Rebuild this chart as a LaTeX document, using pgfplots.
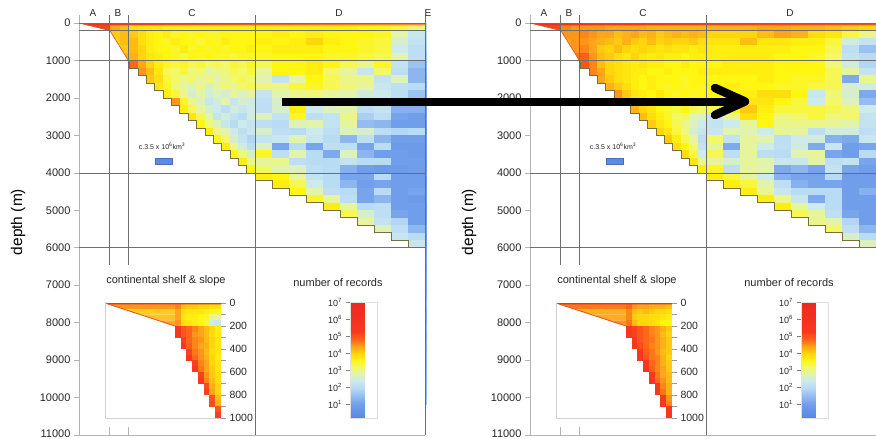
\documentclass[border=0pt]{standalone}
\usepackage{fontspec}
\setmainfont{Liberation Sans}
\usepackage{pgfplots}
\usepackage{pgfplotstable}
\pgfplotsset{compat=1.18}

\definecolor{gridc}{RGB}{110,110,110}
\definecolor{axc}{RGB}{180,180,180}
\definecolor{stairc}{RGB}{120,112,62}
\definecolor{slopec}{RGB}{228,88,32}
\definecolor{shelfc}{RGB}{240,72,30}
\definecolor{topL}{RGB}{235,48,30}
\definecolor{topRa}{RGB}{252,140,38}
\definecolor{topRb}{RGB}{242,80,30}
\definecolor{keyc}{RGB}{92,140,225}
\definecolor{keyd}{RGB}{70,110,185}
\definecolor{wa}{RGB}{255,150,30}
\definecolor{wb}{RGB}{255,205,30}
\definecolor{wc}{RGB}{255,195,40}
\definecolor{wd}{RGB}{255,170,40}
\definecolor{va}{RGB}{255,120,30}
\definecolor{vb}{RGB}{255,175,30}
\definecolor{vc}{RGB}{255,170,35}
\definecolor{vd}{RGB}{255,145,35}

% heat-map cells, sized in pt (1 pt = 1 px of the reference)
\pgfdeclareplotmark{cB}{\pgfpathrectangle{\pgfqpoint{-5.05pt}{-3.85pt}}{\pgfqpoint{10.1pt}{7.7pt}}\pgfusepathqfill}
\pgfdeclareplotmark{cC}{\pgfpathrectangle{\pgfqpoint{-4.3pt}{-3.85pt}}{\pgfqpoint{8.6pt}{7.7pt}}\pgfusepathqfill}
\pgfdeclareplotmark{cD}{\pgfpathrectangle{\pgfqpoint{-8.6pt}{-3.85pt}}{\pgfqpoint{17.2pt}{7.7pt}}\pgfusepathqfill}
\pgfdeclareplotmark{cE}{\pgfpathrectangle{\pgfqpoint{-1.2pt}{-3.85pt}}{\pgfqpoint{2.4pt}{7.7pt}}\pgfusepathqfill}
\pgfdeclareplotmark{cI}{\pgfpathrectangle{\pgfqpoint{-2.98pt}{-2.98pt}}{\pgfqpoint{5.95pt}{5.95pt}}\pgfusepathqfill}

\pgfplotsset{
  colormap={recs}{rgb255(0pt)=(88,135,225) rgb255(8pt)=(112,158,234) rgb255(13pt)=(148,188,240)
    rgb255(18pt)=(185,220,245) rgb255(22pt)=(205,234,236) rgb255(26pt)=(226,243,172)
    rgb255(30pt)=(243,248,105) rgb255(34pt)=(255,246,18) rgb255(38pt)=(255,214,12)
    rgb255(42pt)=(255,165,25) rgb255(46pt)=(255,102,26) rgb255(51pt)=(248,56,30) rgb255(68pt)=(238,40,34)},
  cell/.style={only marks, scatter, point meta=explicit, mark=#1,
    scatter/use mapped color={draw=none,fill=mapped color}},
  mainax/.style={
    width=346pt, height=420pt, scale only axis,
    xmin=0, xmax=346, ymin=-11000, ymax=214,
    axis lines=left, axis line style={-, draw=axc, line width=0.6pt},
    xtick=\empty, scaled y ticks=false,
    ytick={-11000,-10000,...,0},
    yticklabels={\raisebox{2pt}{11000},10000,9000,8000,7000,6000,5000,4000,3000,2000,1000,0},
    tick align=outside, major tick length=5pt,
    ytick style={draw=axc, line width=0.6pt},
    yticklabel style={font=\fontsize{11}{12}\selectfont, text=black!85, inner ysep=0pt},
    ylabel={depth (m)},
    ylabel style={font=\fontsize{15.5}{17}\selectfont, at={(axis description cs:-0.176,0.507)}, anchor=center},
    point meta min=0.2, point meta max=7,
    clip=false, clip marker paths=true,
    colorbar,
    colorbar style={
      at={(parent axis.south west)}, anchor=south west, xshift=263pt, yshift=17pt,
      width=26.5pt, height=115.5pt, scale only axis,
      ytick={1,2,3,4,5,6,7},
      yticklabels={10\textsuperscript{1},10\textsuperscript{2},10\textsuperscript{3},10\textsuperscript{4},10\textsuperscript{5},10\textsuperscript{6},10\textsuperscript{7}},
      yticklabel pos=left, ytick pos=left,
      tick align=outside, major tick length=5pt,
      ytick style={draw=gray, line width=0.5pt},
      yticklabel style={font=\fontsize{9}{10}\selectfont, text=black!85},
      axis line style={draw=black!12},
    },
  },
  insax/.style={
    width=116pt, height=115pt, scale only axis,
    xmin=0, xmax=116, ymin=-1000, ymax=0,
    axis x line=bottom, axis y line=right,
    x axis line style={-, draw=black!18, line width=0.6pt},
    y axis line style={-, draw=none},
    xtick=\empty,
    ytick={-1000,-800,...,0}, yticklabels={1000,800,600,400,200,0},
    minor ytick={-900,-700,-500,-300,-100},
    tick align=outside, major tick length=5pt, minor tick length=5pt,
    ytick style={draw=gray!80, line width=0.5pt},
    minor tick style={draw=gray!80, line width=0.5pt},
    yticklabel style={font=\fontsize{10.5}{12}\selectfont, text=black!85},
    point meta min=0.2, point meta max=7, clip=false, clip marker paths=true,
  },
}

% one heat column: mark, x centre, column, first skipped row, table
\newcommand\colP[5]{\addplot[cell=#1] table[x expr=#2, y=y, meta=#3, skip coords between index={#4}{99}] {#5};}

% log10(number of records); rows of 200 m, columns B, C (15), D (10)
\pgfplotstableread{
y b1 b2 c1 c2 c3 c4 c5 c6 c7 c8 c9 c10 c11 c12 c13 c14 c15 e1 e2 e3 e4 e5 e6 e7 e8 e9 e10
-100 4.4 4.2 3.9 3.8 3.8 3.8 3.7 3.7 3.7 3.7 3.7 3.7 3.7 3.7 3.7 3.7 3.7 3.7 3.7 3.7 3.7 3.7 3.7 3.6 3.6 3.4 3.1
-300 4.1 4.2 4.1 3.9 3.7 3.6 3.7 3.5 3.6 3.5 3.6 3.5 3.5 3.6 3.6 3.6 3.6 3.6 3.7 3.6 3.7 3.6 3.6 3.6 3.5 2.8 2.3
-500 4.0 4.2 4.2 3.9 3.7 3.6 3.5 3.7 3.6 3.6 3.4 3.6 3.5 3.7 3.6 3.6 3.6 3.7 3.6 3.7 4.0 3.7 3.6 3.5 3.4 2.6 2.2
-700 4.0 4.1 4.2 4.0 3.7 3.6 3.6 3.5 3.7 3.5 3.6 3.5 3.6 3.5 3.6 3.6 3.7 3.6 3.7 3.7 3.7 3.6 3.6 3.5 3.4 2.4 2.1
-900 4.1 4.3 4.3 4.0 3.8 3.7 3.6 3.5 3.4 3.6 3.5 3.6 3.5 3.5 3.4 3.5 3.5 3.5 3.6 3.6 3.6 3.5 3.5 3.4 3.3 2.8 2.1
-1100 4.3 4.5 4.8 4.4 4.0 3.7 3.5 3.4 3.5 3.3 3.4 3.2 3.3 3.2 3.4 3.3 3.5 3.3 3.6 3.6 3.7 3.6 3.3 3.0 3.5 2.2 1.6
-1300 nan nan nan 4.5 4.2 3.8 3.3 3.2 3.4 3.1 3.2 2.8 3.0 3.1 3.3 3.2 3.4 2.9 3.6 3.6 3.7 3.2 2.9 2.3 3.2 2.1 1.4
-1500 nan nan nan nan 4.1 3.9 3.4 3.2 3.0 3.2 2.9 3.1 2.8 3.0 3.2 3.3 3.1 2.8 2.2 2.8 3.6 3.3 3.0 3.0 2.2 2.7 1.4
-1700 nan nan nan nan nan 3.8 3.5 3.1 2.9 2.7 3.0 2.6 2.9 3.1 2.9 3.2 3.3 3.1 3.0 3.4 3.5 3.3 3.1 2.9 2.3 2.1 2.0
-1900 nan nan nan nan nan nan 3.7 3.4 3.0 2.6 2.8 2.5 2.7 2.6 2.9 2.7 2.9 2.2 2.8 3.0 3.1 2.9 2.8 2.5 2.4 2.1 1.6
-2100 nan nan nan nan nan nan nan 4.5 3.5 3.0 2.7 2.3 2.5 2.8 2.3 2.6 2.5 2.1 2.6 2.8 2.7 2.5 2.6 2.2 2.3 1.5 1.4
-2300 nan nan nan nan nan nan nan nan 3.7 3.3 2.9 2.6 2.4 2.1 2.5 2.3 2.4 2.1 2.6 3.7 2.4 2.7 2.8 2.1 2.2 1.3 1.3
-2500 nan nan nan nan nan nan nan nan nan 3.8 3.3 2.8 2.2 2.5 2.2 2.0 2.5 2.7 2.2 3.5 2.1 2.2 3.0 1.8 2.1 1.1 1.0
-2700 nan nan nan nan nan nan nan nan nan nan 3.6 3.1 2.7 2.3 2.0 2.4 2.2 2.1 2.0 2.7 2.8 2.2 2.9 1.5 1.4 1.0 1.0
-2900 nan nan nan nan nan nan nan nan nan nan nan 3.7 3.0 2.8 2.4 2.1 2.3 2.6 2.1 2.0 2.4 2.1 2.7 2.6 2.1 1.9 2.0
-3100 nan nan nan nan nan nan nan nan nan nan nan nan 3.6 3.2 2.6 2.2 1.9 2.2 2.3 2.8 2.3 2.0 1.4 2.1 1.4 1.0 1.0
-3300 nan nan nan nan nan nan nan nan nan nan nan nan nan 3.7 3.0 2.5 2.1 2.7 1.1 2.0 1.1 2.1 2.1 1.1 2.0 0.9 0.9
-3500 nan nan nan nan nan nan nan nan nan nan nan nan nan nan 3.6 3.1 2.6 3.5 2.1 2.8 2.0 1.2 2.7 1.4 1.0 1.0 0.9
-3700 nan nan nan nan nan nan nan nan nan nan nan nan nan nan nan 3.7 3.0 2.9 3.0 2.1 2.0 2.0 2.2 2.0 2.0 1.0 1.0
-3900 nan nan nan nan nan nan nan nan nan nan nan nan nan nan nan nan 3.6 3.2 2.8 2.7 2.1 2.0 1.3 1.0 0.9 0.9 1.0
-4100 nan nan nan nan nan nan nan nan nan nan nan nan nan nan nan nan nan 3.7 3.6 2.9 2.2 2.0 1.1 1.1 2.0 1.0 1.0
-4300 nan nan nan nan nan nan nan nan nan nan nan nan nan nan nan nan nan nan 3.7 3.3 2.4 2.0 1.4 1.0 1.1 1.0 1.0
-4500 nan nan nan nan nan nan nan nan nan nan nan nan nan nan nan nan nan nan nan 3.6 2.8 2.1 2.0 1.1 2.0 1.0 1.1
-4700 nan nan nan nan nan nan nan nan nan nan nan nan nan nan nan nan nan nan nan nan 3.5 2.9 2.1 1.1 1.4 1.0 0.9
-4900 nan nan nan nan nan nan nan nan nan nan nan nan nan nan nan nan nan nan nan nan nan 3.7 2.9 2.0 2.1 1.0 1.0
-5100 nan nan nan nan nan nan nan nan nan nan nan nan nan nan nan nan nan nan nan nan nan nan 3.3 2.6 2.1 1.1 1.0
-5300 nan nan nan nan nan nan nan nan nan nan nan nan nan nan nan nan nan nan nan nan nan nan nan 2.9 2.2 1.9 1.0
-5500 nan nan nan nan nan nan nan nan nan nan nan nan nan nan nan nan nan nan nan nan nan nan nan nan 2.7 2.1 1.4
-5700 nan nan nan nan nan nan nan nan nan nan nan nan nan nan nan nan nan nan nan nan nan nan nan nan nan 2.3 2.0
-5900 nan nan nan nan nan nan nan nan nan nan nan nan nan nan nan nan nan nan nan nan nan nan nan nan nan nan 2.3
}\tabL

\pgfplotstableread{
y b1 b2 c1 c2 c3 c4 c5 c6 c7 c8 c9 c10 c11 c12 c13 c14 c15 e1 e2 e3 e4 e5 e6 e7 e8 e9 e10
-100 4.6 4.5 4.5 4.5 4.5 4.4 4.4 4.4 4.4 4.4 4.3 4.3 4.3 4.3 4.3 4.3 4.3 4.3 4.3 4.3 4.4 4.4 4.3 4.3 4.2 4.1 4.0
-300 4.5 4.5 4.6 4.5 4.4 4.4 4.2 4.3 4.4 4.2 4.3 4.1 4.2 4.3 4.2 4.3 4.2 4.0 4.0 4.0 4.2 4.4 4.3 3.9 3.8 3.4 3.0
-500 4.4 4.5 4.5 4.4 4.3 4.2 4.1 4.3 4.1 4.0 4.2 4.0 4.1 4.0 4.0 4.1 3.9 3.8 3.8 4.2 3.8 3.8 3.7 3.7 3.4 2.5 2.2
-700 4.4 4.5 4.6 4.4 4.1 4.0 4.2 4.0 3.9 4.0 3.9 3.8 3.9 3.8 3.8 3.7 3.8 3.7 3.7 3.7 3.7 3.7 3.6 3.6 3.3 2.1 1.6
-900 4.5 4.7 4.9 4.5 4.2 4.1 3.9 3.8 4.0 3.8 3.7 3.8 3.7 3.7 3.6 3.7 3.7 3.7 3.7 3.7 3.7 3.6 3.6 3.5 3.2 2.2 2.0
-1100 4.6 4.8 5.0 4.6 4.2 4.0 3.9 3.8 3.7 3.8 3.7 3.7 3.6 3.6 3.7 3.6 3.6 3.6 3.7 3.7 3.7 3.6 3.6 3.6 3.1 2.5 1.9
-1300 nan nan nan 4.6 4.4 4.0 3.9 3.8 3.7 3.7 3.6 3.6 3.7 3.6 3.6 3.6 3.7 3.7 3.7 3.7 3.7 3.6 3.6 3.6 3.3 2.9 2.2
-1500 nan nan nan nan 4.4 4.1 3.9 3.8 3.7 3.6 3.7 3.6 3.6 3.6 3.5 3.6 3.6 3.6 3.6 3.6 3.7 3.6 3.5 3.5 3.3 1.2 3.0
-1700 nan nan nan nan nan 4.3 4.1 3.9 3.7 3.6 3.7 3.6 3.5 3.6 3.5 3.6 3.5 3.6 3.7 3.6 3.6 3.5 3.5 3.4 3.3 2.6 2.5
-1900 nan nan nan nan nan nan 4.5 4.1 3.8 3.7 3.6 3.8 3.6 3.5 3.6 3.5 3.6 3.6 3.6 3.7 3.9 3.9 3.6 2.3 3.1 2.6 1.2
-2100 nan nan nan nan nan nan nan 4.4 4.1 3.8 3.7 3.6 3.6 3.5 3.5 3.4 3.6 3.6 3.8 3.8 3.8 3.6 3.4 2.4 3.2 2.7 1.5
-2300 nan nan nan nan nan nan nan nan 4.3 4.0 3.8 3.6 3.5 3.4 3.6 3.3 3.2 3.3 3.6 4.1 3.7 3.4 3.4 3.4 3.3 3.1 2.4
-2500 nan nan nan nan nan nan nan nan nan 4.2 3.9 3.7 3.5 3.2 3.3 2.8 2.7 2.3 3.0 3.9 3.6 3.1 3.2 3.4 3.1 3.2 2.2
-2700 nan nan nan nan nan nan nan nan nan nan 4.1 3.8 3.6 3.3 3.0 2.7 2.4 2.2 2.4 2.9 3.6 3.0 3.0 3.0 2.9 2.8 2.2
-2900 nan nan nan nan nan nan nan nan nan nan nan 4.0 3.8 3.4 3.1 2.6 2.3 2.3 2.8 2.8 2.4 2.9 2.9 2.1 2.5 2.5 2.1
-3100 nan nan nan nan nan nan nan nan nan nan nan nan 4.1 3.7 3.3 2.9 2.1 3.2 2.2 2.9 2.8 2.1 2.4 2.5 1.3 1.2 2.3
-3300 nan nan nan nan nan nan nan nan nan nan nan nan nan 3.9 3.6 3.2 2.2 2.9 1.2 2.9 2.4 2.1 2.5 1.2 2.3 1.0 1.1
-3500 nan nan nan nan nan nan nan nan nan nan nan nan nan nan 3.9 3.4 2.4 3.3 2.1 2.9 2.1 2.0 2.8 2.9 1.1 1.0 2.0
-3700 nan nan nan nan nan nan nan nan nan nan nan nan nan nan nan 3.8 3.0 2.9 2.6 2.9 2.8 2.3 2.3 2.8 2.1 2.2 1.1
-3900 nan nan nan nan nan nan nan nan nan nan nan nan nan nan nan nan 3.7 3.5 2.1 2.9 2.8 1.2 1.4 1.1 2.2 1.1 1.0
-4100 nan nan nan nan nan nan nan nan nan nan nan nan nan nan nan nan nan 3.7 3.4 2.9 2.4 1.3 1.1 1.1 2.0 1.0 1.0
-4300 nan nan nan nan nan nan nan nan nan nan nan nan nan nan nan nan nan nan 3.7 3.4 2.8 2.1 1.3 1.1 1.1 1.0 1.0
-4500 nan nan nan nan nan nan nan nan nan nan nan nan nan nan nan nan nan nan nan 3.7 3.0 2.3 2.0 2.0 2.0 1.0 1.3
-4700 nan nan nan nan nan nan nan nan nan nan nan nan nan nan nan nan nan nan nan nan 3.7 3.0 2.3 1.2 2.0 1.0 1.0
-4900 nan nan nan nan nan nan nan nan nan nan nan nan nan nan nan nan nan nan nan nan nan 3.7 2.9 2.4 2.0 1.0 1.0
-5100 nan nan nan nan nan nan nan nan nan nan nan nan nan nan nan nan nan nan nan nan nan nan 3.3 2.9 2.1 1.1 1.0
-5300 nan nan nan nan nan nan nan nan nan nan nan nan nan nan nan nan nan nan nan nan nan nan nan 3.0 2.8 1.9 1.0
-5500 nan nan nan nan nan nan nan nan nan nan nan nan nan nan nan nan nan nan nan nan nan nan nan nan 3.2 2.1 1.4
-5700 nan nan nan nan nan nan nan nan nan nan nan nan nan nan nan nan nan nan nan nan nan nan nan nan nan 2.6 2.0
-5900 nan nan nan nan nan nan nan nan nan nan nan nan nan nan nan nan nan nan nan nan nan nan nan nan nan nan 2.7
}\tabR

% continental shelf & slope insets: rows of 50 m, 8 slope columns
\pgfplotstableread{
y k1 k2 k3 k4 k5 k6 k7 k8
-25 4.6 4.2 4.1 4.1 4.0 4.0 3.9 3.9
-75 4.4 3.9 3.8 3.8 3.8 3.7 3.6 3.6
-125 4.4 3.8 3.7 3.7 3.6 3.5 3.0 2.9
-175 4.5 3.9 3.8 3.7 3.6 3.4 2.4 2.3
-225 5.3 5.0 4.8 4.6 4.4 4.2 4.0 3.7
-275 5.4 5.0 4.8 4.5 4.4 4.2 3.9 3.7
-325 nan 5.2 4.8 4.6 4.5 4.2 4.0 3.8
-375 nan 5.3 4.9 4.6 4.4 4.3 4.0 3.8
-425 nan nan 5.2 4.7 4.5 4.2 3.9 3.8
-475 nan nan 5.3 4.8 4.5 4.3 4.0 3.7
-525 nan nan nan 5.2 4.6 4.4 4.0 3.8
-575 nan nan nan 5.3 4.7 4.4 4.1 3.8
-625 nan nan nan nan 5.2 4.5 4.1 3.9
-675 nan nan nan nan 5.3 4.6 4.2 3.9
-725 nan nan nan nan nan 5.1 4.3 4.0
-775 nan nan nan nan nan 5.2 4.4 4.0
-825 nan nan nan nan nan nan 5.0 4.2
-875 nan nan nan nan nan nan 5.1 4.3
-925 nan nan nan nan nan nan nan 5.0
-975 nan nan nan nan nan nan nan 5.2
}\insL

\pgfplotstableread{
y k1 k2 k3 k4 k5 k6 k7 k8
-25 4.8 4.5 4.4 4.4 4.3 4.3 4.3 4.2
-75 4.6 4.2 4.1 4.2 4.1 4.0 4.0 3.9
-125 4.6 4.1 4.0 4.0 3.9 3.9 3.8 3.7
-175 4.7 4.2 4.0 4.0 3.9 3.8 3.6 3.6
-225 5.5 5.2 5.0 4.8 4.6 4.5 4.3 4.1
-275 5.5 5.2 5.0 4.8 4.6 4.5 4.2 4.0
-325 nan 5.4 5.0 4.8 4.7 4.5 4.3 4.1
-375 nan 5.5 5.1 4.8 4.6 4.5 4.3 4.1
-425 nan nan 5.4 4.9 4.7 4.5 4.2 4.1
-475 nan nan 5.5 5.0 4.7 4.6 4.3 4.0
-525 nan nan nan 5.4 4.8 4.6 4.3 4.1
-575 nan nan nan 5.5 4.9 4.6 4.4 4.1
-625 nan nan nan nan 5.4 4.7 4.4 4.2
-675 nan nan nan nan 5.5 4.8 4.5 4.2
-725 nan nan nan nan nan 5.3 4.6 4.3
-775 nan nan nan nan nan 5.4 4.7 4.3
-825 nan nan nan nan nan nan 5.3 4.5
-875 nan nan nan nan nan nan 5.4 4.6
-925 nan nan nan nan nan nan nan 5.3
-975 nan nan nan nan nan nan nan 5.4
}\insR

\newcommand\heat[1]{%
\colP{cB}{35.73}{b1}{6}{#1}
\colP{cB}{45.58}{b2}{6}{#1}
\colP{cC}{54.68}{c1}{6}{#1}
\colP{cC}{63.05}{c2}{7}{#1}
\colP{cC}{71.42}{c3}{8}{#1}
\colP{cC}{79.78}{c4}{9}{#1}
\colP{cC}{88.15}{c5}{10}{#1}
\colP{cC}{96.52}{c6}{11}{#1}
\colP{cC}{104.88}{c7}{12}{#1}
\colP{cC}{113.25}{c8}{13}{#1}
\colP{cC}{121.62}{c9}{14}{#1}
\colP{cC}{129.98}{c10}{15}{#1}
\colP{cC}{138.35}{c11}{16}{#1}
\colP{cC}{146.72}{c12}{17}{#1}
\colP{cC}{155.08}{c13}{18}{#1}
\colP{cC}{163.45}{c14}{19}{#1}
\colP{cC}{171.82}{c15}{20}{#1}
\colP{cD}{184.5}{e1}{21}{#1}
\colP{cD}{201.5}{e2}{22}{#1}
\colP{cD}{218.5}{e3}{23}{#1}
\colP{cD}{235.5}{e4}{24}{#1}
\colP{cD}{252.5}{e5}{25}{#1}
\colP{cD}{269.5}{e6}{26}{#1}
\colP{cD}{286.5}{e7}{27}{#1}
\colP{cD}{303.5}{e8}{28}{#1}
\colP{cD}{320.5}{e9}{29}{#1}
\colP{cD}{337.5}{e10}{30}{#1}
}

% shelf, slope, surface band, staircase and guide lines, drawn above the cells
\newcommand\panelframe[2]{%
\addplot[fill=shelfc, draw=none] coordinates {(0,0) (30.8,-200) (30.8,0) (0,0)};
\addplot[fill=white, draw=none] coordinates {(30.8,-200) (50.5,-1050) (50.5,-1215) (30.5,-1215) (30.5,-200)};
\addplot[draw=none, left color=#1, right color=#2] coordinates {(0,0) (346,0) (346,-60) (9.3,-60) (0,0)};
\addplot[slopec, line width=0.7pt] coordinates {(0,0) (30.8,-200) (50.5,-1050)};
\addplot[stairc, line width=0.6pt] coordinates {
 (50.5,-1050) (50.5,-1200) (58.87,-1200) (58.87,-1400) (67.23,-1400) (67.23,-1600)
 (75.6,-1600) (75.6,-1800) (83.97,-1800) (83.97,-2000) (92.33,-2000) (92.33,-2200)
 (100.7,-2200) (100.7,-2400) (109.07,-2400) (109.07,-2600) (117.43,-2600) (117.43,-2800)
 (125.8,-2800) (125.8,-3000) (134.17,-3000) (134.17,-3200) (142.53,-3200) (142.53,-3400)
 (150.9,-3400) (150.9,-3600) (159.27,-3600) (159.27,-3800) (167.63,-3800) (167.63,-4000)
 (176,-4000) (176,-4200) (193,-4200) (193,-4400) (210,-4400) (210,-4600) (227,-4600)
 (227,-4800) (244,-4800) (244,-5000) (261,-5000) (261,-5200) (278,-5200) (278,-5400)
 (295,-5400) (295,-5600) (312,-5600) (312,-5800) (329,-5800) (329,-6000) (346,-6000)};
\draw[gridc, line width=0.5pt] (0,0) -- (346,0);
\draw[gridc, line width=0.4pt] (0,-200) -- (346,-200);
\draw[gridc, line width=0.5pt] (0,-1000) -- (346,-1000);
\draw[gridc, line width=0.5pt] (0,-4000) -- (346,-4000);
\draw[gridc, line width=0.5pt] (0,-6000) -- (346,-6000);
\draw[gridc, line width=0.5pt] (30,214) -- (30,-6470);
\draw[gridc, line width=0.5pt] (49,214) -- (49,-6470);
\draw[gridc, line width=0.5pt] (176,214) -- (176,-11000);
\draw[axc, line width=0.6pt] (30,-11000) -- (30,-10780);
\draw[axc, line width=0.6pt] (49,-11000) -- (49,-10780);
}

\newcommand\inset[5]{%
\colP{cI}{72.875}{k1}{6}{#1}
\colP{cI}{78.625}{k2}{8}{#1}
\colP{cI}{84.375}{k3}{10}{#1}
\colP{cI}{90.125}{k4}{12}{#1}
\colP{cI}{95.875}{k5}{14}{#1}
\colP{cI}{101.625}{k6}{16}{#1}
\colP{cI}{107.375}{k7}{18}{#1}
\colP{cI}{113.125}{k8}{20}{#1}
\addplot[fill=#2, draw=none] coordinates {(0,0) (70,0) (70,-50) (17.5,-50) (0,0)};
\addplot[fill=#3, draw=none] coordinates {(17.5,-50) (70,-50) (70,-100) (35,-100) (17.5,-50)};
\addplot[fill=#4, draw=none] coordinates {(35,-100) (70,-100) (70,-150) (52.5,-150) (35,-100)};
\addplot[fill=#5, draw=none] coordinates {(52.5,-150) (70,-150) (70,-200) (52.5,-150)};
\addplot[fill=topL, draw=none] coordinates {(0,0) (116,0) (116,-12) (4.2,-12) (0,0)};
\addplot[slopec, line width=0.9pt] coordinates {(0,0) (70,-200)};
\draw[black!18, line width=0.6pt] (0,0) -- (0,-1000);
}

\begin{document}
\begin{tikzpicture}
\useasboundingbox (0,0) rectangle (876pt,-439pt);
\clip (0,0) rectangle (876pt,-439pt);

% ---------- left panel ----------
\begin{axis}[mainax, at={(79pt,-435pt)}, anchor=south west]
\heat{\tabL}
\addplot[cell=cE] coordinates {
 (346.8,-100) [2.1] (346.8,-300) [2.0] (346.8,-500) [1.9] (346.8,-700) [1.8] (346.8,-900) [1.6]
 (346.8,-1100) [1.4] (346.8,-1300) [1.3] (346.8,-1500) [1.2] (346.8,-1700) [1.2] (346.8,-1900) [1.1]
 (346.8,-2100) [1.1] (346.8,-2300) [1.0] (346.8,-2500) [1.1] (346.8,-2700) [1.0] (346.8,-2900) [1.0]
 (346.8,-3100) [1.1] (346.8,-3300) [1.0] (346.8,-3500) [1.0] (346.8,-3700) [0.9] (346.8,-3900) [1.0]
 (346.8,-4100) [1.0] (346.8,-4300) [0.9] (346.8,-4500) [1.0] (346.8,-4700) [1.0] (346.8,-4900) [0.9]
 (346.8,-5100) [1.0] (346.8,-5300) [1.0] (346.8,-5500) [1.1] (346.8,-5700) [1.0] (346.8,-5900) [1.0]
 (346.8,-6100) [1.1] (346.8,-6300) [1.2] (346.8,-6500) [1.1] (346.8,-6700) [1.2] (346.8,-6900) [1.2]
 (346.8,-7100) [1.1] (346.8,-7300) [1.2] (346.8,-7500) [1.3] (346.8,-7700) [1.2] (346.8,-7900) [1.2]
 (346.8,-8100) [1.3] (346.8,-8300) [1.2] (346.8,-8500) [1.3] (346.8,-8700) [1.3] (346.8,-8900) [1.4]
 (346.8,-9100) [1.3] (346.8,-9300) [1.4] (346.8,-9500) [1.4] (346.8,-9700) [1.5] (346.8,-9900) [1.5]
 (346.8,-10100) [1.6]};
\panelframe{topL}{topRa}
\draw[gridc, line width=0.5pt] (346,214) -- (346,-11000);
\end{axis}

\begin{axis}[insax, at={(105pt,-418pt)}, anchor=south west]
\inset{\insL}{wa}{wb}{wc}{wd}
\end{axis}

% ---------- right panel ----------
\begin{axis}[mainax, at={(530pt,-435pt)}, anchor=south west]
\heat{\tabR}
\panelframe{topL}{topRb}
\end{axis}

\begin{axis}[insax, at={(556pt,-418pt)}, anchor=south west]
\inset{\insR}{va}{vb}{vc}{vd}
\end{axis}

% ---------- annotations ----------
\begin{scope}[font=\fontsize{10}{12}\selectfont, text=black!85]
\node at (93pt,-13pt) {A};
\node at (118pt,-13pt) {B};
\node at (192pt,-13pt) {C};
\node at (339pt,-13pt) {D};
\node at (428pt,-13pt) {E};
\node at (544pt,-13pt) {A};
\node at (569pt,-13pt) {B};
\node at (643pt,-13pt) {C};
\node at (790pt,-13pt) {D};
\end{scope}
\begin{scope}[font=\fontsize{7}{8}\selectfont, text=black!85]
\node at (162pt,-146.5pt) {c.3.5 x 10\textsuperscript{6}km\textsuperscript{3}};
\node at (613pt,-146.5pt) {c.3.5 x 10\textsuperscript{6}km\textsuperscript{3}};
\end{scope}
\filldraw[fill=keyc, draw=keyd, line width=0.4pt] (155pt,-158pt) rectangle (172pt,-164pt);
\filldraw[fill=keyc, draw=keyd, line width=0.4pt] (606pt,-158pt) rectangle (623pt,-164pt);
\begin{scope}[font=\fontsize{11}{13}\selectfont, text=black!85]
\node at (166pt,-281pt) {continental shelf \& slope};
\node at (338pt,-283pt) {number of records};
\node at (617pt,-281pt) {continental shelf \& slope};
\node at (789pt,-283pt) {number of records};
\end{scope}

% arrow from the left panel to the right one
\draw[line width=8pt] (282pt,-101.5pt) -- (742pt,-101.5pt);
\draw[line width=8.5pt, line cap=round, line join=round] (715pt,-88pt) -- (745pt,-101.5pt) -- (715pt,-115pt);
\end{tikzpicture}
\end{document}
